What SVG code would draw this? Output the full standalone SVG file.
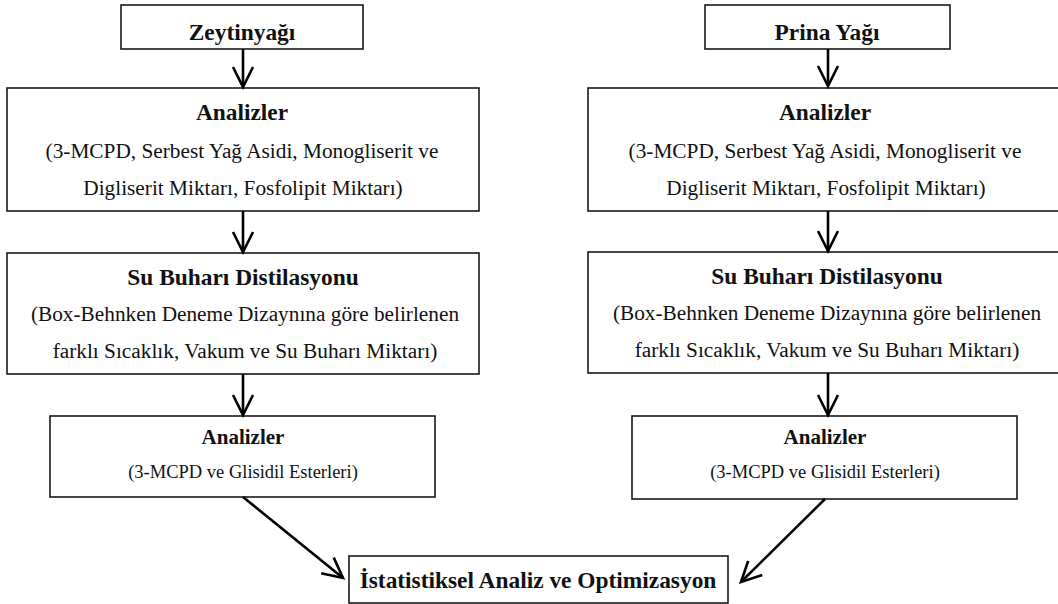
<svg xmlns="http://www.w3.org/2000/svg" width="1058" height="604" viewBox="0 0 1058 604">
<defs>
<marker id="arr" markerUnits="userSpaceOnUse" markerWidth="30" markerHeight="30" viewBox="-25 -15 30 30" refX="0" refY="0" orient="auto">
<path d="M-20,-10 L0,0 L-20,10" fill="none" stroke="#000" stroke-width="2.6" stroke-linejoin="miter"/>
</marker>
<style>
.box{fill:#fff;stroke:#1a1a1a;stroke-width:1.6}
.t{font-family:"Liberation Serif","Times New Roman",serif;fill:#111;text-anchor:middle}
.b{font-weight:bold;font-size:23.4px}
.r{font-size:21.3px}
.bs{font-weight:bold;font-size:21px}
.rs{font-size:18.5px}
.c{stroke:#000;stroke-width:2.6;fill:none;marker-end:url(#arr)}
</style>
</defs>
<rect width="1058" height="604" fill="#fff"/>
<g id="n-zeytinyagi">
<rect class="box" x="121" y="5" width="242" height="44"/>
<text class="t b" x="242" y="40">Zeytinyağı</text>
</g>
<g id="n-prina">
<rect class="box" x="705" y="5" width="245" height="44"/>
<text class="t b" x="827" y="40">Prina Yağı</text>
</g>
<g id="n-analiz-l">
<rect class="box" x="7" y="88" width="472" height="123"/>
<text class="t b" x="242" y="120">Analizler</text>
<text class="t r" x="242" y="158">(3-MCPD, Serbest Yağ Asidi, Monogliserit ve</text>
<text class="t r" x="243" y="195">Digliserit Miktarı, Fosfolipit Miktarı)</text>
</g>
<g id="n-analiz-r">
<rect class="box" x="588" y="88" width="480" height="123"/>
<text class="t b" x="825" y="120">Analizler</text>
<text class="t r" x="825" y="158">(3-MCPD, Serbest Yağ Asidi, Monogliserit ve</text>
<text class="t r" x="826" y="195">Digliserit Miktarı, Fosfolipit Miktarı)</text>
</g>
<g id="n-distil-l">
<rect class="box" x="7" y="253" width="472" height="121"/>
<text class="t b" x="243" y="285">Su Buharı Distilasyonu</text>
<text class="t r" x="245" y="321">(Box-Behnken Deneme Dizaynına göre belirlenen</text>
<text class="t r" x="245" y="358">farklı Sıcaklık, Vakum ve Su Buharı Miktarı)</text>
</g>
<g id="n-distil-r">
<rect class="box" x="588" y="252" width="480" height="121"/>
<text class="t b" x="827" y="284">Su Buharı Distilasyonu</text>
<text class="t r" x="827" y="320">(Box-Behnken Deneme Dizaynına göre belirlenen</text>
<text class="t r" x="827" y="357">farklı Sıcaklık, Vakum ve Su Buharı Miktarı)</text>
</g>
<g id="n-analiz2-l">
<rect class="box" x="50" y="416" width="385" height="81"/>
<text class="t bs" x="243" y="444">Analizler</text>
<text class="t rs" x="243" y="478">(3-MCPD ve Glisidil Esterleri)</text>
</g>
<g id="n-analiz2-r">
<rect class="box" x="632" y="416" width="385" height="83"/>
<text class="t bs" x="825" y="444">Analizler</text>
<text class="t rs" x="825" y="478">(3-MCPD ve Glisidil Esterleri)</text>
</g>
<g id="n-istatistik">
<rect class="box" x="349" y="556" width="379" height="47"/>
<text class="t b" x="538" y="588">İstatistiksel Analiz ve Optimizasyon</text>
</g>
<g id="connectors">
<line class="c" x1="243" y1="49" x2="243" y2="87"/>
<line class="c" x1="243" y1="211" x2="243" y2="252"/>
<line class="c" x1="243" y1="374" x2="243" y2="415"/>
<line class="c" x1="828" y1="49" x2="828" y2="86"/>
<line class="c" x1="828" y1="211" x2="828" y2="251"/>
<line class="c" x1="828" y1="373" x2="828" y2="415"/>
<line class="c" x1="243" y1="497" x2="343" y2="578"/>
<line class="c" x1="825" y1="499" x2="741" y2="582"/>
</g>
</svg>
